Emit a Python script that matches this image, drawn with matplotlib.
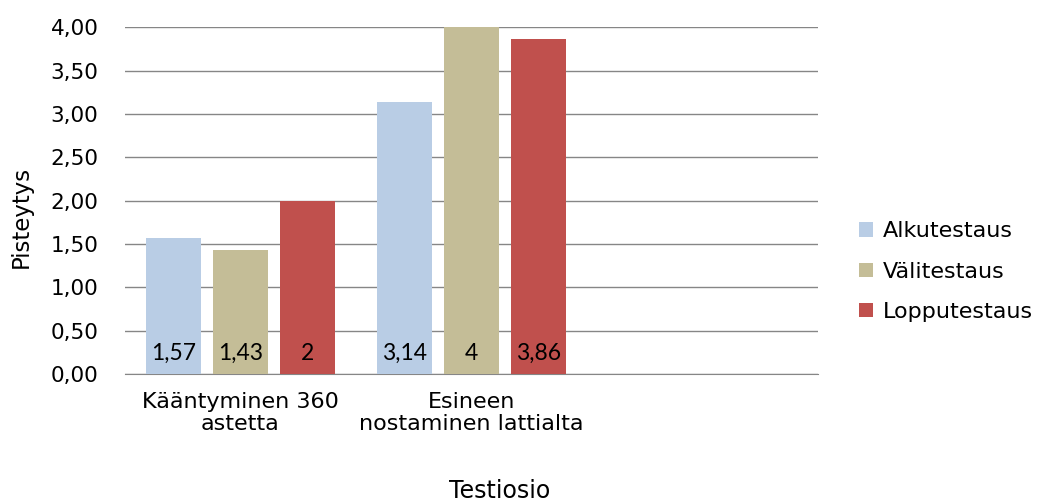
import matplotlib.pyplot as plt
import numpy as np

plt.rcParams['font.family'] = ['DejaVu Sans']

# testiosiot (kolmas paikka jää tyhjäksi)
categories = ['Kääntyminen 360\nastetta', 'Esineen\nnostaminen lattialta', '']
series_names = ['Alkutestaus', 'Välitestaus', 'Lopputestaus']
alku = [1.57, 3.14, 0]
vali = [1.43, 4.00, 0]
loppu = [2.00, 3.86, 0]
colors = ['#B9CDE5', '#C4BD97', '#C0504D']
yticks = [0, 0.5, 1, 1.5, 2, 2.5, 3, 3.5, 4]


def fi(v):
    # pilkku desimaalierottimena, turhat nollat pois
    return f'{v:g}'.replace('.', ',')


fig = plt.figure(figsize=(10.41, 5.04), dpi=100)
ax = fig.add_axes([0.120, 0.258, 0.666, 0.688])

x = np.arange(len(categories))
width = 0.236
step = 0.29
for i, (vals, name) in enumerate(zip([alku, vali, loppu], series_names)):
    pos = x[:2] + (i - 1) * step
    bars = ax.bar(pos, vals[:2], width, color=colors[i], label=name, zorder=3)
    for b, v in zip(bars, vals[:2]):
        ax.annotate(fi(v), (b.get_x() + b.get_width() / 2, 0), xytext=(0, 15),
                    textcoords='offset points', ha='center', va='center',
                    fontsize=16.5, family=['Lato', 'DejaVu Sans'], zorder=4)

ax.set_xlim(-0.5, 2.5)
ax.set_ylim(0, 4)
ax.set_yticks(yticks)
ax.set_yticklabels([f'{v:.2f}'.replace('.', ',') for v in yticks], fontsize=15.5)
ax.set_xticks(x)
ax.set_xticklabels(categories, fontsize=16, linespacing=1.1)
ax.tick_params(axis='x', length=0, pad=13)
ax.tick_params(axis='y', length=0, pad=19)
ax.yaxis.grid(True, color='#868686', linewidth=1, zorder=0)
for s in ['top', 'right', 'left']:
    ax.spines[s].set_visible(False)
ax.spines['bottom'].set_color('#868686')
ax.set_ylabel('Pisteytys', fontsize=16.5)
ax.yaxis.set_label_coords(-0.133, 0.452)
ax.set_xlabel('Testiosio', fontsize=17)
ax.xaxis.set_label_coords(0.541, -0.302)

ax.legend(loc='center left', bbox_to_anchor=(1.030, 0.295), frameon=False,
          fontsize=16, handlelength=0.62, handleheight=0.62, handletextpad=0.45,
          labelspacing=0.92)

plt.savefig('out.png')
